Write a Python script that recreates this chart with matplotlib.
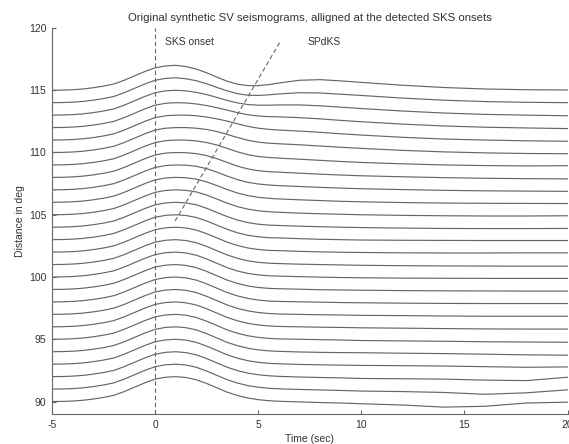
import matplotlib
matplotlib.use("Agg")
import matplotlib.pyplot as plt
import numpy as np

# ---- data ----
# trace baselines (epicentral distance, deg)
DIST = list(range(90, 116))

# sample times (s) of the traces
T_RISE = [-5, -4.5, -4, -3.5, -3, -2.5, -2, -1.5, -1, -0.5, 0, 0.5, 1]
T_CODA = [1.5, 2, 2.5, 3, 3.5, 4, 4.5, 5, 5.5, 6, 7, 8, 9, 10, 12, 14, 16, 18, 20]

# SKS rising flank, identical on every trace (deg of offset)
RISE = [0.0, 0.01, 0.04, 0.1, 0.2, 0.33, 0.5, 0.8, 1.15, 1.5, 1.8, 1.95, 2.0]

# everything after the SKS peak, one row per distance
CODA = {
    90:  [1.93, 1.75, 1.45, 1.1, 0.75, 0.48, 0.28, 0.15, 0.07, 0.02, -0.03, -0.08, -0.12, -0.18, -0.28, -0.45, -0.38, -0.12, -0.05],
    91:  [1.93, 1.75, 1.45, 1.1, 0.75, 0.48, 0.28, 0.15, 0.07, 0.02, -0.03, -0.07, -0.11, -0.16, -0.2, -0.27, -0.42, -0.3, -0.06],
    92:  [1.93, 1.75, 1.45, 1.1, 0.75, 0.48, 0.28, 0.15, 0.07, 0.02, -0.03, -0.07, -0.1, -0.15, -0.17, -0.2, -0.28, -0.32, -0.05],
    93:  [1.93, 1.75, 1.45, 1.1, 0.75, 0.48, 0.28, 0.15, 0.07, 0.03, -0.02, -0.05, -0.08, -0.1, -0.12, -0.15, -0.2, -0.25, -0.22],
    94:  [1.93, 1.75, 1.45, 1.1, 0.75, 0.48, 0.28, 0.15, 0.07, 0.03, -0.02, -0.05, -0.07, -0.08, -0.12, -0.15, -0.2, -0.25, -0.28],
    95:  [1.93, 1.75, 1.45, 1.1, 0.75, 0.48, 0.28, 0.15, 0.07, 0.03, 0.0, -0.03, -0.06, -0.1, -0.13, -0.16, -0.2, -0.22, -0.24],
    96:  [1.93, 1.75, 1.45, 1.1, 0.75, 0.48, 0.28, 0.15, 0.07, 0.03, 0.0, -0.03, -0.05, -0.08, -0.11, -0.14, -0.17, -0.18, -0.18],
    97:  [1.93, 1.75, 1.45, 1.1, 0.75, 0.48, 0.28, 0.15, 0.07, 0.03, 0.0, -0.03, -0.05, -0.08, -0.1, -0.13, -0.15, -0.15, -0.15],
    98:  [1.93, 1.75, 1.45, 1.1, 0.75, 0.48, 0.28, 0.15, 0.07, 0.04, 0.01, -0.02, -0.05, -0.07, -0.1, -0.12, -0.13, -0.13, -0.13],
    99:  [1.93, 1.75, 1.45, 1.1, 0.75, 0.48, 0.28, 0.16, 0.09, 0.06, 0.02, -0.02, -0.04, -0.06, -0.09, -0.11, -0.12, -0.13, -0.13],
    100: [1.93, 1.75, 1.45, 1.1, 0.75, 0.48, 0.29, 0.17, 0.1, 0.07, 0.03, -0.01, -0.04, -0.06, -0.09, -0.1, -0.11, -0.11, -0.11],
    101: [1.93, 1.75, 1.46, 1.11, 0.77, 0.5, 0.3, 0.18, 0.11, 0.08, 0.03, 0.0, -0.03, -0.06, -0.09, -0.11, -0.12, -0.13, -0.13],
    102: [1.94, 1.77, 1.48, 1.14, 0.8, 0.53, 0.33, 0.21, 0.14, 0.12, 0.06, 0.02, -0.01, -0.03, -0.06, -0.07, -0.07, -0.06, -0.06],
    103: [1.94, 1.78, 1.5, 1.16, 0.83, 0.55, 0.35, 0.23, 0.16, 0.14, 0.08, 0.03, 0.0, -0.03, -0.05, -0.06, -0.07, -0.07, -0.07],
    104: [1.95, 1.8, 1.52, 1.18, 0.85, 0.57, 0.37, 0.24, 0.17, 0.14, 0.08, 0.04, 0.0, -0.03, -0.07, -0.1, -0.11, -0.11, -0.1],
    105: [1.96, 1.83, 1.58, 1.26, 0.93, 0.65, 0.45, 0.32, 0.24, 0.2, 0.13, 0.08, 0.04, 0.0, -0.05, -0.08, -0.1, -0.1, -0.08],
    106: [1.97, 1.86, 1.64, 1.34, 1.02, 0.74, 0.54, 0.4, 0.32, 0.27, 0.2, 0.14, 0.08, 0.04, -0.02, -0.06, -0.08, -0.09, -0.1],
    107: [1.98, 1.89, 1.7, 1.42, 1.1, 0.82, 0.6, 0.47, 0.39, 0.34, 0.27, 0.2, 0.14, 0.09, 0.02, -0.04, -0.08, -0.1, -0.12],
    108: [1.98, 1.91, 1.75, 1.5, 1.2, 0.9, 0.68, 0.54, 0.46, 0.42, 0.34, 0.26, 0.19, 0.13, 0.05, -0.02, -0.07, -0.1, -0.12],
    109: [1.99, 1.93, 1.8, 1.6, 1.33, 1.05, 0.83, 0.68, 0.6, 0.55, 0.46, 0.37, 0.28, 0.2, 0.09, 0.0, -0.05, -0.08, -0.06],
    110: [2.0, 1.95, 1.85, 1.68, 1.45, 1.2, 0.98, 0.83, 0.75, 0.7, 0.62, 0.52, 0.42, 0.33, 0.17, 0.05, -0.03, -0.08, -0.1],
    111: [2.0, 1.95, 1.85, 1.7, 1.52, 1.3, 1.1, 0.95, 0.86, 0.8, 0.72, 0.62, 0.5, 0.4, 0.22, 0.08, 0.0, -0.06, -0.1],
    112: [1.98, 1.9, 1.77, 1.6, 1.4, 1.2, 1.03, 0.93, 0.88, 0.86, 0.8, 0.7, 0.58, 0.47, 0.28, 0.13, 0.03, -0.03, -0.08],
    113: [1.95, 1.83, 1.65, 1.42, 1.18, 0.98, 0.85, 0.8, 0.8, 0.82, 0.82, 0.75, 0.64, 0.53, 0.33, 0.17, 0.06, 0.0, -0.05],
    114: [1.92, 1.76, 1.52, 1.22, 0.95, 0.72, 0.6, 0.58, 0.63, 0.7, 0.8, 0.78, 0.68, 0.58, 0.37, 0.2, 0.09, 0.03, 0.0],
    115: [1.9, 1.7, 1.4, 1.05, 0.72, 0.48, 0.37, 0.37, 0.45, 0.58, 0.8, 0.85, 0.75, 0.63, 0.4, 0.22, 0.1, 0.04, 0.02],
}

# SPdKS pick line (time, distance) end points
SPDKS_T = [0.97, 6.1]
SPDKS_D = [104.5, 119.0]

GREY = "#666666"
TXT = "#333333"
plt.rcParams["font.family"] = ["Liberation Sans", "DejaVu Sans"]
plt.rcParams["axes.unicode_minus"] = False

fig = plt.figure(figsize=(5.69, 4.44), dpi=100)
ax = fig.add_axes([0.0914, 0.0676, 0.906, 0.8694])

t = T_RISE + T_CODA
for d in DIST:
    amp = np.array(RISE + CODA[d])
    ax.plot(t, d + amp, color=GREY, lw=0.85)

ax.axvline(0, color=GREY, lw=0.8, ls=(0, (4, 2.5)))
ax.plot(SPDKS_T, SPDKS_D, color=GREY, lw=0.8, ls=(0, (4, 2.5)))
ax.text(0.5, 118.9, "SKS onset", fontsize=7.5, color=TXT, va="center")
ax.text(7.4, 118.9, "SPdKS", fontsize=7.5, color=TXT, va="center")

ax.set_xlim(-5, 20)
ax.set_ylim(89, 120)
ax.set_xticks([-5, 0, 5, 10, 15, 20])
ax.set_yticks([90, 95, 100, 105, 110, 115, 120])
ax.tick_params(direction="in", length=3, width=0.8, color=GREY,
               labelsize=7.5, labelcolor=TXT, pad=4)
for s in ("top", "right"):
    ax.spines[s].set_visible(False)
for s in ("left", "bottom"):
    ax.spines[s].set_color(GREY)
    ax.spines[s].set_linewidth(0.8)

ax.set_title("Original synthetic SV seismograms, alligned at the detected SKS onsets",
             fontsize=8.2, color=TXT, pad=5)
ax.set_xlabel("Time (sec)", fontsize=7.5, color=TXT, labelpad=3)
ax.set_ylabel("Distance in deg", fontsize=7.5, color=TXT, labelpad=3)

fig.savefig("out.png", dpi=100)
